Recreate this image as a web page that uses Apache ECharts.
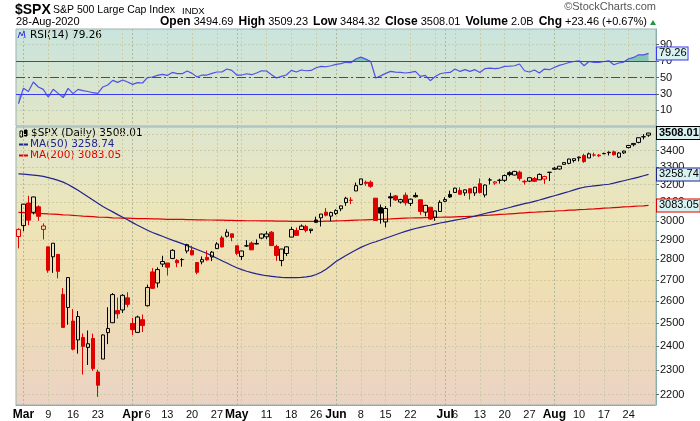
<!DOCTYPE html>
<html><head><meta charset="utf-8">
<script src="https://cdn.jsdelivr.net/npm/echarts/dist/echarts.min.js"></script>
<style>html,body{margin:0;padding:0;background:#fff}#c{width:700px;height:421px}</style>
</head><body><div id="c"></div>
<script>
const dates = ['2020-02-28',
'2020-03-02','2020-03-03','2020-03-04','2020-03-05','2020-03-06','2020-03-09','2020-03-10','2020-03-11','2020-03-12','2020-03-13','2020-03-16','2020-03-17','2020-03-18','2020-03-19','2020-03-20','2020-03-23','2020-03-24','2020-03-25','2020-03-26','2020-03-27','2020-03-30','2020-03-31',
'2020-04-01','2020-04-02','2020-04-03','2020-04-06','2020-04-07','2020-04-08','2020-04-09','2020-04-13','2020-04-14','2020-04-15','2020-04-16','2020-04-17','2020-04-20','2020-04-21','2020-04-22','2020-04-23','2020-04-24','2020-04-27','2020-04-28','2020-04-29','2020-04-30',
'2020-05-01','2020-05-04','2020-05-05','2020-05-06','2020-05-07','2020-05-08','2020-05-11','2020-05-12','2020-05-13','2020-05-14','2020-05-15','2020-05-18','2020-05-19','2020-05-20','2020-05-21','2020-05-22','2020-05-26','2020-05-27','2020-05-28','2020-05-29',
'2020-06-01','2020-06-02','2020-06-03','2020-06-04','2020-06-05','2020-06-08','2020-06-09','2020-06-10','2020-06-11','2020-06-12','2020-06-15','2020-06-16','2020-06-17','2020-06-18','2020-06-19','2020-06-22','2020-06-23','2020-06-24','2020-06-25','2020-06-26','2020-06-29','2020-06-30',
'2020-07-01','2020-07-02','2020-07-06','2020-07-07','2020-07-08','2020-07-09','2020-07-10','2020-07-13','2020-07-14','2020-07-15','2020-07-16','2020-07-17','2020-07-20','2020-07-21','2020-07-22','2020-07-23','2020-07-24','2020-07-27','2020-07-28','2020-07-29','2020-07-30','2020-07-31',
'2020-08-03','2020-08-04','2020-08-05','2020-08-06','2020-08-07','2020-08-10','2020-08-11','2020-08-12','2020-08-13','2020-08-14','2020-08-17','2020-08-18','2020-08-19','2020-08-20','2020-08-21','2020-08-24','2020-08-25','2020-08-26','2020-08-27','2020-08-28'];

const openP = [2916.90,
2974.28,3096.46,3045.75,3075.70,2954.20,2863.89,2813.48,2825.60,2630.86,2569.99,2508.59,2425.66,2436.50,2393.48,2431.94,2290.71,2344.44,2457.77,2501.29,2555.87,2558.98,2614.69,
2498.08,2458.54,2514.92,2578.28,2738.65,2685.00,2776.99,2782.46,2805.10,2795.64,2799.34,2842.43,2845.62,2784.81,2787.89,2810.42,2812.64,2854.65,2909.96,2918.46,2930.91,
2869.09,2815.01,2868.88,2883.14,2878.26,2908.83,2915.46,2939.50,2865.86,2794.54,2829.95,2913.86,2948.59,2953.63,2969.95,2948.05,3004.08,3015.65,3046.61,3025.17,
3038.78,3064.78,3098.90,3111.56,3163.84,3199.92,3213.32,3213.42,3123.53,3071.04,2993.76,3131.00,3136.13,3101.64,3140.29,3094.42,3138.70,3114.40,3046.60,3073.20,3018.59,3050.20,
3105.92,3143.64,3155.29,3166.44,3153.07,3176.17,3152.47,3205.08,3141.11,3225.98,3208.36,3224.21,3224.29,3268.52,3254.86,3271.64,3218.58,3219.84,3234.27,3227.22,3231.76,3270.45,
3288.26,3289.92,3317.37,3323.17,3340.05,3356.04,3370.34,3355.46,3372.95,3368.66,3380.86,3387.04,3392.51,3360.48,3386.01,3418.09,3435.95,3449.97,3485.14,3494.69];

const highP = [2959.72,
3090.96,3136.72,3130.97,3083.04,2985.93,2863.89,2882.59,2825.60,2660.95,2711.33,2562.98,2553.93,2453.57,2466.97,2453.01,2300.73,2449.71,2571.42,2637.01,2615.91,2631.80,2641.39,
2522.75,2533.22,2538.18,2676.85,2756.89,2760.75,2818.57,2782.46,2851.85,2801.88,2806.51,2879.22,2868.98,2785.54,2815.10,2844.90,2842.71,2887.72,2921.15,2954.86,2930.91,
2869.09,2844.24,2898.23,2891.11,2901.92,2932.16,2944.25,2945.82,2874.14,2852.80,2865.01,2968.09,2964.21,2980.29,2978.50,2956.76,3021.72,3036.25,3068.67,3049.17,
3062.18,3081.07,3130.94,3128.91,3211.72,3233.13,3222.71,3223.27,3123.53,3088.42,3079.76,3153.45,3141.16,3120.00,3155.53,3120.92,3154.90,3115.01,3086.25,3073.73,3053.89,3111.51,
3128.44,3165.81,3182.59,3184.15,3171.80,3179.78,3186.82,3235.32,3200.95,3238.28,3220.39,3233.52,3258.61,3277.29,3279.32,3279.99,3227.26,3241.43,3243.72,3264.74,3250.92,3272.17,
3302.73,3306.84,3330.77,3351.03,3352.54,3363.29,3381.01,3387.89,3387.24,3378.51,3387.59,3395.06,3399.54,3390.80,3399.96,3432.09,3444.21,3481.07,3501.38,3509.23];

const lowP = [2855.84,
2945.19,2976.63,3034.38,2999.83,2901.54,2734.43,2734.00,2707.22,2478.86,2492.37,2380.94,2367.04,2280.52,2319.78,2295.56,2191.86,2344.44,2407.53,2500.72,2520.02,2545.28,2571.15,
2447.49,2455.79,2459.96,2574.57,2657.67,2663.30,2762.36,2721.17,2805.10,2761.54,2764.32,2830.88,2820.43,2727.10,2775.95,2794.26,2791.76,2852.89,2860.71,2912.16,2892.47,
2821.61,2797.85,2863.55,2847.65,2876.48,2902.88,2903.44,2869.59,2793.15,2766.64,2816.78,2913.86,2922.35,2953.63,2938.57,2933.59,2988.17,2969.75,3023.40,2998.61,
3031.54,3051.64,3080.96,3090.41,3163.84,3196.00,3193.11,3181.49,2999.49,2984.47,2965.66,3076.06,3108.03,3093.51,3083.11,3079.39,3127.12,3032.13,3024.01,3004.63,2999.74,3047.83,
3101.17,3124.52,3155.29,3142.93,3136.53,3115.70,3136.22,3149.43,3127.66,3200.76,3198.59,3205.65,3215.16,3247.77,3253.10,3222.66,3200.05,3214.25,3216.17,3227.22,3204.13,3220.26,
3284.53,3286.37,3317.37,3318.14,3328.72,3335.44,3326.44,3355.46,3363.35,3361.64,3379.22,3370.15,3369.66,3354.69,3379.31,3413.13,3425.84,3444.15,3468.35,3484.32];

const closeP = [2954.22,
3090.23,3003.37,3130.12,3023.94,2972.37,2746.56,2882.23,2741.38,2480.64,2711.02,2386.13,2529.19,2398.10,2409.39,2304.92,2237.40,2447.33,2475.56,2630.07,2541.47,2626.65,2584.59,
2470.50,2526.90,2488.65,2663.68,2659.41,2749.98,2789.82,2761.63,2846.06,2783.36,2799.55,2874.56,2823.16,2736.56,2799.31,2797.80,2836.74,2878.48,2863.39,2939.51,2912.43,
2830.71,2842.74,2868.44,2848.42,2881.19,2929.80,2930.32,2870.12,2820.00,2852.50,2863.70,2953.91,2922.94,2971.61,2948.51,2955.45,2991.77,3036.13,3029.73,3044.31,
3055.73,3080.82,3122.87,3112.35,3193.93,3232.39,3207.18,3190.14,3002.10,3041.31,3066.59,3124.74,3113.49,3115.34,3097.74,3117.86,3131.29,3050.33,3083.76,3009.05,3053.24,3100.29,
3115.86,3130.01,3179.72,3145.32,3169.94,3152.05,3185.04,3155.22,3197.52,3226.56,3215.57,3224.73,3251.84,3257.30,3276.02,3235.66,3215.63,3239.41,3218.44,3258.44,3246.22,3271.12,
3294.61,3306.51,3327.77,3349.16,3351.28,3360.47,3333.69,3380.35,3373.43,3372.85,3381.99,3389.78,3374.85,3385.51,3397.16,3431.28,3443.62,3478.73,3484.55,3508.01];

const prevClose = 2978.76;

const ma50 = [3262,3260,3257,3254,3251,3247,3240,3233,3224,3214,3200,3184,3168,3150,3131,3113,3095,3077,3062,3048,3033,3019,3005,2990,2976,2963,2950,2938,2928,2918,2908,2898,2889,2880,2870,2860,2850,2840,2830,2818,2806,2794,2782,2770,2759,2750,2742,2735,2729,2724,2720,2717,2714,2712,2711,2711,2711,2712,2714,2718,2726,2737,2752,2770,2790,2805,2820,2834,2848,2861,2872,2882,2890,2899,2908,2917,2926,2935,2944,2952,2959,2965,2971,2976,2982,2988,2993,2998,3003,3008,3013,3019,3025,3032,3039,3045,3051,3058,3065,3072,3079,3086,3093,3099,3106,3113,3121,3129,3137,3145,3153,3161,3170,3178,3185,3189,3193,3196,3199,3202,3208,3215,3222,3229,3236,3243,3251,3258.74];

const ma200 = [3045,3044,3043,3042,3040,3039,3037,3036,3034,3032,3031,3029,3027,3025,3024,3022,3020,3019,3018,3016,3015,3014,3014,3013,3012,3012,3011,3010,3010,3009,3008,3008,3007,3007,3006,3006,3005,3005,3004,3004,3003,3003,3002,3002,3001,3001,3000,3000,3000,2999,2999,2999,2998,2998,2998,2997,2997,2997,2997,2997,2997,2997,2998,2998,2999,3000,3001,3002,3003,3004,3005,3006,3007,3008,3009,3010,3012,3013,3014,3015,3016,3016,3017,3018,3018,3019,3020,3020,3021,3022,3023,3024,3025,3027,3029,3030,3032,3034,3035,3037,3039,3041,3043,3045,3046,3048,3049,3051,3052,3054,3055,3057,3058,3060,3061,3063,3064,3066,3068,3069,3071,3073,3075,3076,3078,3080,3081,3083.05];

const rsi14 = [18,37,33,44.5,38.5,35.6,26.3,35.6,30.7,25.5,36.8,30.4,35.6,34,33,31.5,30.7,38.5,40.9,46.5,44.1,47,44.5,41.6,43.7,43.3,49.8,50.6,52.5,53.8,52.5,56.2,54.8,54.6,57.9,55,50.6,53,53,55,56.7,56.7,60.3,58.6,53,53,54.6,53.4,55.5,58.2,57.9,53.4,49.4,51.3,53,58.6,56.7,59.1,58.2,58.6,61.9,63.5,63.1,64.3,65.9,66.8,68.5,68,72.5,74.8,72.4,69.5,49.4,52,55,57.4,56.5,56.2,55.5,56.2,57.4,51.3,52.5,46.1,51.3,54.6,55.8,56.2,60.3,57.4,59.5,57.4,59.5,56.2,60.7,61.5,60.7,61.5,63.5,63.8,64.3,66.4,58.2,56.7,59.1,55.5,60.3,59.5,62.2,64.7,66.4,68.3,69.5,70.4,64.3,69.5,68.3,68.3,69.5,70.4,65.5,67.6,68.8,72.8,74.4,77.6,77.6,79.26];

const tickDates = ['2020-03-02','2020-03-09','2020-03-16','2020-03-23','2020-03-30','2020-04-01','2020-04-06','2020-04-13','2020-04-20','2020-04-27','2020-05-01','2020-05-04','2020-05-11','2020-05-18','2020-05-26','2020-06-01','2020-06-08','2020-06-15','2020-06-22','2020-06-29','2020-07-01','2020-07-06','2020-07-13','2020-07-20','2020-07-27','2020-08-03','2020-08-10','2020-08-17','2020-08-24'];
const tickTexts = ['Mar','9','16','23','','Apr','6','13','20','27','May','','11','18','26','Jun','8','15','22','','Jul','6','13','20','27','Aug','10','17','24'];
const monthDates = ['2020-03-02','2020-04-01','2020-05-01','2020-06-01','2020-07-01','2020-08-03'];
const priceTicks = [2200,2300,2400,2500,2600,2700,2800,2900,3000,3100,3200,3300,3400,3500];
const rsiTicks = [10,30,50,70,90];
const rsiLevels = [70,50,30];

// ---- build ----
const cats = dates.concat(['']);
const tickMap = {}; tickDates.forEach((d,i)=>tickMap[d]=tickTexts[i]);
const monthSet = new Set(monthDates);
const isTick = (i) => cats[i] in tickMap;
const isMonth = (i) => monthSet.has(cats[i]);
const RED = '#e00000', BLK = '#000000', NAVY = '#23238c', RSIC = '#5050e6', LVL = '#3a3aee';
const FONT = "'Liberation Sans', Arial, sans-serif";
const CLEAR = 'rgba(0,0,0,0)';

const candles = dates.map((d,i)=>{
  const pc = i ? closeP[i-1] : prevClose;
  const col = closeP[i] < pc ? RED : BLK;
  const fill = closeP[i] < openP[i] ? col : CLEAR;
  return {value:[openP[i], closeP[i], lowP[i], highP[i]],
    itemStyle:{color:fill, color0:fill, borderColor:col, borderColor0:col, borderWidth:1}};
});
const last = dates.length-1;
const boxItem = (val, txt, border, bold) => ({yAxis: val,
  lineStyle:{color:CLEAR, width:0, opacity:1},
  label:{show:true, position:'end', distance:1, formatter: txt, opacity:1,
  backgroundColor:'#d8f1f1', borderColor:border, borderWidth:1, padding:[1,1,0,2],
  color:'#000', fontSize:11, fontFamily:FONT, fontWeight: bold?'bold':'normal'}});

const catAxis = (grid, month, labels) => ({
  type:'category', gridIndex:grid, data:cats, boundaryGap:true,
  position:'bottom',
  axisLine:{show: labels, lineStyle:{color:'#7aa6a8', type:'dotted'}},
  axisTick:{show:false},
  axisLabel: labels ? {show:true, interval:(i)=>isTick(i) && tickMap[cats[i]] !== '', margin:4,
     formatter:(v)=> monthSet.has(v) ? '{m|'+tickMap[v]+'}' : tickMap[v],
     color:'#111', fontSize:11, fontFamily:FONT,
     rich:{m:{fontWeight:'bold', fontSize:12, fontFamily:FONT, color:'#000'}}} : {show:false},
  splitLine:{show:true, alignWithLabel:true, interval: month ? (i)=>isMonth(i) : (i)=>isTick(i),
     lineStyle:{type:[2,2], color: month ? '#b0b89c' : '#cfcaa6', width:1}}
});

const chart = echarts.init(document.getElementById('c'), null, {renderer:'canvas'});
chart.setOption({
  animation:false,
  backgroundColor:'#ffffff',
  grid:[
    {left:16, top:29, width:640, height:97, show:true, borderColor:'#9ab3b3', borderWidth:1,
     backgroundColor:{type:'linear',x:0,y:0,x2:0,y2:1,colorStops:[{offset:0,color:'#c9e4de'},{offset:1,color:'#e2e6c6'}]}},
    {left:16, top:127, width:640, height:279, show:true, borderColor:'#9ab3b3', borderWidth:1,
     backgroundColor:{type:'linear',x:0,y:0,x2:0,y2:1,colorStops:[{offset:0,color:'#dde6cf'},{offset:0.3,color:'#ece5ba'},{offset:0.55,color:'#efdfb2'},{offset:1,color:'#ebd3c4'}]}}
  ],
  xAxis:[catAxis(0,false,false), catAxis(0,true,false), catAxis(1,false,true), catAxis(1,true,false)],
  yAxis:[
    {type:'value', gridIndex:0, position:'right', min:-9, max:109,
     axisLine:{show:true, lineStyle:{color:'#7aa6a8', type:'dotted'}},
     axisTick:{show:true, customValues:rsiTicks, length:3, lineStyle:{color:'#666'}},
     axisLabel:{customValues:rsiTicks, color:'#111', fontSize:11, fontFamily:FONT, margin:4},
     splitLine:{show:true, lineStyle:{type:[2,2], color:'#bfcfba'}}},
    {type:'log', gridIndex:1, position:'right', min:2160, max:3546, logBase:10,
     axisLine:{show:true, lineStyle:{color:'#7aa6a8', type:'dotted'}},
     axisTick:{show:true, customValues:priceTicks, length:3, lineStyle:{color:'#666'}},
     axisLabel:{customValues:priceTicks, formatter:(v)=>String(Math.round(v)), color:'#111', fontSize:11, fontFamily:FONT, margin:4},
     splitLine:{show:true, lineStyle:{type:[2,2], color:'#cfcaa6'}}}
  ],
  series:[
    {type:'line', name:'rsiHigh', xAxisIndex:0, yAxisIndex:0, data:rsi14.map(v=>Math.max(v,70)),
     symbol:'none', lineStyle:{width:0, color:CLEAR}, areaStyle:{origin:70, color:'#66b6a6'}, silent:true, z:1},
    {type:'line', name:'rsiLow', xAxisIndex:0, yAxisIndex:0, data:rsi14.map(v=>Math.min(v,30)),
     symbol:'none', lineStyle:{width:0, color:CLEAR}, areaStyle:{origin:30, color:'#66b6a6'}, silent:true, z:1},
    {type:'line', name:'RSI levels', xAxisIndex:0, yAxisIndex:0, data:[], symbol:'none', z:5,
     markLine:{silent:true, symbol:['none','none'], label:{show:false}, z:5,
       lineStyle:{color:LVL, width:1, opacity:1},
       data: rsiLevels.map(v=>({yAxis:v, lineStyle:{color:LVL, width:1, opacity:1, type: v===50 ? [9,3,2,3] : 'solid'}}))}},
    {type:'line', name:'RSI(14)', xAxisIndex:0, yAxisIndex:0, data:rsi14, symbol:'none',
     lineStyle:{color:RSIC, width:1.2}, z:3,
     markLine:{silent:true, symbol:['none','none'], data:[boxItem(rsi14[last], rsi14[last].toFixed(2), LVL, false)]}},
    {type:'line', name:'MA(200)', xAxisIndex:2, yAxisIndex:1, data:ma200, symbol:'none',
     lineStyle:{color:RED, width:1.2}, z:2,
     markLine:{silent:true, symbol:['none','none'], data:[boxItem(ma200[last], ma200[last].toFixed(2), RED, false)]}},
    {type:'line', name:'MA(50)', xAxisIndex:2, yAxisIndex:1, data:ma50, symbol:'none',
     lineStyle:{color:NAVY, width:1.2}, z:2,
     markLine:{silent:true, symbol:['none','none'], data:[boxItem(ma50[last], ma50[last].toFixed(2), NAVY, false)]}},
    {type:'candlestick', name:'$SPX', xAxisIndex:2, yAxisIndex:1, data:candles, barWidth:4, z:4,
     markLine:{silent:true, symbol:['none','none'], data:[boxItem(closeP[last], closeP[last].toFixed(2), '#000', true)]}}
  ],
  graphic:[
    {type:'text', x:15, y:3, style:{text:'$SPX', font:"bold 14px "+FONT, fill:'#000'}},
    {type:'text', x:53, y:5, style:{text:'S&P 500 Large Cap Index', font:"10.5px "+FONT, fill:'#000'}},
    {type:'text', x:182, y:6, style:{text:'INDX', font:"9.5px "+FONT, fill:'#000'}},
    {type:'text', x:16, y:16, style:{text:'28-Aug-2020', font:"11px "+FONT, fill:'#000'}},
    {type:'text', x:656, y:1, style:{text:'\u00a9StockCharts.com', font:"11px "+FONT, fill:'#555', textAlign:'right'}},
    {type:'text', x:647, y:16, style:{textAlign:'right', font:"11px "+FONT, fill:'#000',
      text:'{b|Open} '+openP[last].toFixed(2)+' {b|High} '+highP[last].toFixed(2)+' {b|Low} '+lowP[last].toFixed(2)+' {b|Close} '+closeP[last].toFixed(2)+' {b|Volume} 2.0B {b|Chg} +'+(closeP[last]-closeP[last-1]).toFixed(2)+' (+'+((closeP[last]/closeP[last-1]-1)*100).toFixed(2)+'%)',
      rich:{b:{fontWeight:'bold', font:"bold 11px "+FONT, padding:[0,0,0,2]}}}},
    {type:'polygon', shape:{points:[[650,25],[653,20],[656,25]]}, style:{fill:'#1a9a3a'}},
    // RSI legend
    {type:'polyline', shape:{points:[[18,38],[20,32],[22,36],[24,31],[25,38]]}, style:{stroke:'#3a3ad8', fill:'none', lineWidth:1}},
    {type:'text', x:30, y:30, style:{text:'RSI(14) '+rsi14[last].toFixed(2), font:"10.5px 'DejaVu Sans', sans-serif", fill:'#000'}},
    // price legend
    {type:'rect', shape:{x:20, y:131, width:2.5, height:6}, style:{fill:'none', stroke:'#000', lineWidth:1}},
    {type:'rect', shape:{x:24.5, y:130, width:2.5, height:6}, style:{fill:'#000', stroke:'#000', lineWidth:1}},
    {type:'text', x:31, y:128, style:{text:'$SPX (Daily) '+closeP[last].toFixed(2), font:"10.5px 'DejaVu Sans', sans-serif", fill:'#000'}},
    {type:'line', shape:{x1:19, y1:144.5, x2:28, y2:144.5}, style:{stroke:NAVY, lineWidth:2}},
    {type:'text', x:30, y:139, style:{text:'MA(50) '+ma50[last].toFixed(2), font:"10.5px 'DejaVu Sans', sans-serif", fill:NAVY}},
    {type:'line', shape:{x1:19, y1:155.5, x2:28, y2:155.5}, style:{stroke:RED, lineWidth:2}},
    {type:'text', x:30, y:150, style:{text:'MA(200) '+ma200[last].toFixed(2), font:"10.5px 'DejaVu Sans', sans-serif", fill:RED}}
  ]
});
</script></body></html>
